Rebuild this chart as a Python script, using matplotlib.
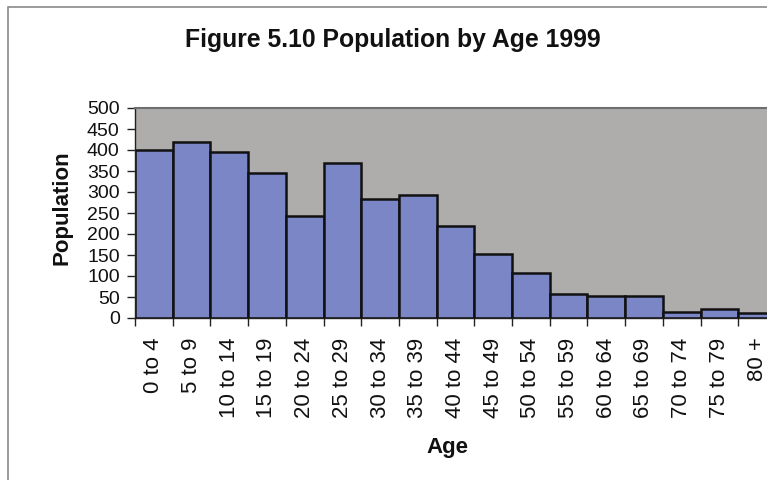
import matplotlib
matplotlib.use("Agg")
import matplotlib.pyplot as plt
from matplotlib.patches import Rectangle
import numpy as np

age_groups = ["0 to 4", "5 to 9", "10 to 14", "15 to 19", "20 to 24", "25 to 29",
              "30 to 34", "35 to 39", "40 to 44", "45 to 49", "50 to 54", "55 to 59",
              "60 to 64", "65 to 69", "70 to 74", "75 to 79", "80 +"]
population = [401, 419, 396, 346, 244, 368, 284, 294, 220, 153, 106, 56,
              52, 52, 15, 21, 11]
y_ticks = [0, 50, 100, 150, 200, 250, 300, 350, 400, 450, 500]

plt.rcParams["font.family"] = ["Liberation Sans", "DejaVu Sans"]

W, H = 767, 480
fig = plt.figure(figsize=(W / 100, H / 100), dpi=100)
fig.patch.set_facecolor("white")

# chart frame (runs off the right and bottom edges)
fig.patches.append(Rectangle((8 / W, -0.1), 1.2, 1.1 - 7 / H, transform=fig.transFigure,
                             fill=False, edgecolor="#8a8a8a", linewidth=1.2))

bar_w_px = 37.7
ax = fig.add_axes([135 / W, 1 - 318 / H, len(age_groups) * bar_w_px / W, 210 / H])
ax.set_facecolor("#aeadab")

x = np.arange(len(age_groups)) + 0.5
ax.bar(x, population, width=1.0, color="#7b86c6", edgecolor="#111111", linewidth=1.8)

ax.set_xlim(0, len(age_groups))
ax.set_ylim(0, 500)
ax.set_yticks(y_ticks)
ax.set_yticklabels([str(v) for v in y_ticks], fontsize=14)
ax.tick_params(axis="y", direction="out", length=6, width=1, pad=5, colors="#222222",
               labelcolor="#111111")

# category ticks sit between bars, labels centred under bars
ax.set_xticks(np.arange(len(age_groups) + 1))
ax.set_xticklabels([])
ax.set_xticks(x, minor=True)
ax.set_xticklabels(age_groups, minor=True, rotation=90, fontsize=16, va="top")
ax.tick_params(axis="x", which="major", direction="out", length=6, width=1, colors="#222222")
ax.tick_params(axis="x", which="minor", length=0, pad=14, labelcolor="#111111")

for s in ["left", "bottom"]:
    ax.spines[s].set_color("#222222")
    ax.spines[s].set_linewidth(1.0)
ax.spines["top"].set_color("#6e6e6e")
ax.spines["top"].set_linewidth(1.5)
ax.spines["right"].set_visible(False)

fig.text(393 / W, 1 - 40 / H, "Figure 5.10 Population by Age 1999", ha="center", va="center",
         fontsize=17.8, fontweight="bold", color="#111111")
fig.text(62 / W, 1 - 208 / H, "Population", ha="center", va="center", rotation=90,
         fontsize=16, fontweight="bold", color="#111111")
fig.text(447 / W, 1 - 447 / H, "Age", ha="center", va="center",
         fontsize=16, fontweight="bold", color="#111111")

fig.savefig("out.png", dpi=100)
